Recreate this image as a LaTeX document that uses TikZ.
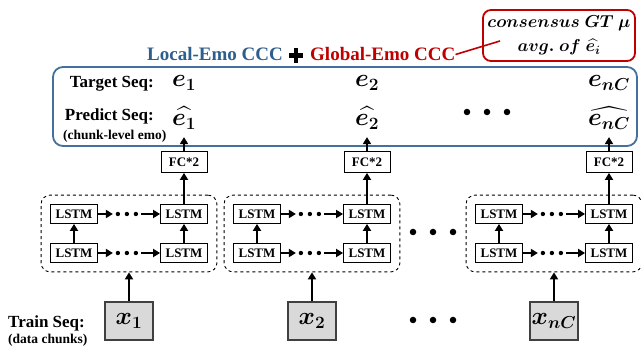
\documentclass[tikz,border=0pt]{standalone}
\usepackage{amsmath}
\usepackage[no-math]{fontspec}
\setmainfont{Liberation Serif}
\usetikzlibrary{arrows.meta,fit,calc}
\definecolor{seqblue}{HTML}{41719C}
\definecolor{titleblue}{HTML}{2E5E8E}
\definecolor{lossred}{HTML}{C00000}
\definecolor{chunkgray}{HTML}{D9D9D9}

\begin{document}
\begin{tikzpicture}[x=1pt,y=-1pt,
  lstm/.style={draw,line width=0.8pt,minimum width=47pt,minimum height=19pt,inner sep=0pt,
    font=\fontsize{13}{15}\selectfont\bfseries},
  fcbox/.style={lstm,minimum width=46pt,minimum height=21pt},
  chunk/.style={draw=black!75,line width=1.1pt,fill=chunkgray,minimum width=48pt,minimum height=38pt,inner sep=0pt,
    font=\fontsize{24}{26}\selectfont\boldmath},
  group/.style={draw,dashed,line width=0.9pt,rounded corners=9pt,inner sep=9pt},
  flow/.style={line width=2.3pt,-{Triangle[length=7pt,width=8pt]}},
  lbl/.style={inner sep=0pt,font=\fontsize{17}{19}\selectfont\bfseries},
  sublbl/.style={inner sep=0pt,font=\fontsize{13.5}{15}\selectfont\bfseries},
  emo/.style={inner sep=0pt,font=\fontsize{24}{26}\selectfont\boldmath},
  bigdot/.style={circle,fill,inner sep=0pt,minimum size=6.5pt},
]
\useasboundingbox (0,0) rectangle (641,347);

% loss title and callout
\node[inner sep=0pt,anchor=base east,text=titleblue,font=\fontsize{19}{21}\selectfont\bfseries]
  (local) at (283,61) {Local-Emo CCC};
\node[inner sep=0pt,anchor=base west,text=lossred,font=\fontsize{19}{21}\selectfont\bfseries]
  (global) at (310,61) {Global-Emo CCC};
\coordinate (plus) at (296,55.5);
\draw[line width=4.2pt] ($(plus)+(-7,0)$) -- ($(plus)+(7,0)$);
\draw[line width=4.2pt] ($(plus)+(0,-7.5)$) -- ($(plus)+(0,7.5)$);
\node[draw=lossred,line width=1.8pt,rounded corners=8pt,minimum width=152pt,minimum height=51pt,
  align=center,inner sep=0pt,font=\fontsize{18.5}{24}\selectfont\boldmath]
  (gt) at (559,35.5) {$consensus\ GT\ \mu$\\$avg.\ of\ \widehat{e_i}$};
\coordinate (gtend) at (500,41);
\draw[lossred,line width=1.6pt] (global.east) -- (gtend);

% sequence panel
\node[draw=seqblue,line width=1.8pt,rounded corners=10pt,minimum width=584pt,minimum height=79pt]
  (seq) at (345,106.5) {};
\node[lbl,anchor=base east] (tlab) at (154,88) {Target Seq:};
\node[lbl,anchor=base east] (plab) at (154,121) {Predict Seq:};
\node[sublbl,anchor=base west] (plab2) at (63,139.5) {(chunk-level emo)};

\node[emo] (t1) at (184,83) {$e_1$};
\node[emo] (t2) at (367,83) {$e_2$};
\node[emo] (t3) at (609,83) {$e_{nC}$};
\node[emo] (h1) at (184,118) {$\widehat{e_1}$};
\node[emo] (h2) at (367,118) {$\widehat{e_2}$};
\node[emo] (h3) at (609,118) {$\widehat{e_{nC}}$};
\node[bigdot] (pd1) at (467,112) {};
\node[bigdot] (pd2) at (487,112) {};
\node[bigdot] (pd3) at (507,112) {};

% chunk encoders
\coordinate (xrow) at (0,321);
\foreach \i/\c in {1/184,2/367,3/609} {
  \node[fcbox] (fc\i) at (\c,162) {FC*2};
  \node[lstm] (ua\i) at (\c-110,214) {LSTM};
  \node[lstm] (ub\i) at (\c,214) {LSTM};
  \node[lstm] (la\i) at (\c-110,253) {LSTM};
  \node[lstm] (lb\i) at (\c,253) {LSTM};
  \node[group,fit=(ua\i)(lb\i)] (g\i) {};
  \draw[flow] (la\i) -- (ua\i);
  \draw[flow] (lb\i) -- (ub\i);
  \draw[flow] (ub\i) -- (fc\i);
  \draw[flow] (fc\i.north) -- ++(0,-14);
  \foreach \r in {u,l} {
    \draw[flow] (\r a\i.east) -- ++(15,0);
    \foreach \d in {20,29,38}
      \fill ($(\r a\i.east)+(\d,0)$) circle (2.2);
    \draw[flow] ($(\r b\i.west)+(-19,0)$) -- (\r b\i.west);
  }
}
\node[chunk] (x1) at (g1.center |- xrow) {$x_1$};
\node[chunk] (x2) at (g2.center |- xrow) {$x_2$};
\node[chunk] (x3) at (g3.center |- xrow) {$x_{nC}$};
\foreach \i in {1,2,3}
  \draw[flow] (x\i) -- (g\i);

% gaps between the encoders and the chunks
\node[bigdot] (gd1) at (413,232) {};
\node[bigdot] (gd2) at (433,232) {};
\node[bigdot] (gd3) at (453,232) {};
\node[bigdot] (xd1) at (413,320) {};
\node[bigdot] (xd2) at (433,320) {};
\node[bigdot] (xd3) at (453,320) {};

\node[lbl,anchor=base west] (trlab) at (8,328) {Train Seq:};
\node[sublbl,anchor=base west] (trlab2) at (8,344) {(data chunks)};
\end{tikzpicture}
\end{document}
